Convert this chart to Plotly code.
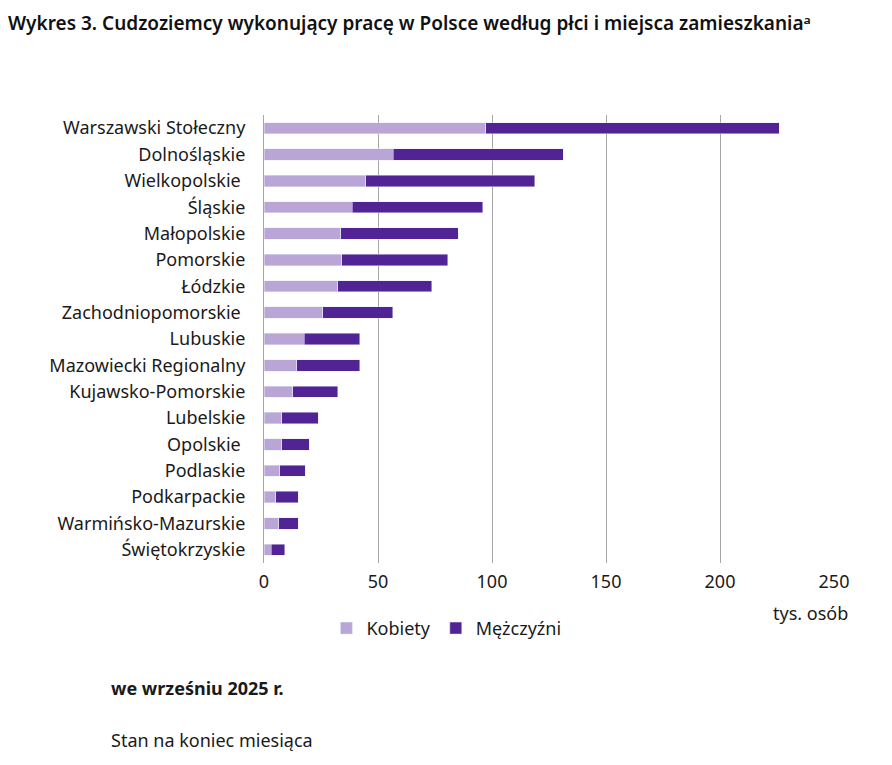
import plotly.graph_objects as go

# województwa (od góry wykresu)
regiony = [
    "Warszawski Stołeczny", "Dolnośląskie", "Wielkopolskie\u00a0", "Śląskie",
    "Małopolskie", "Pomorskie", "Łódzkie", "Zachodniopomorskie\u00a0",
    "Lubuskie", "Mazowiecki Regionalny", "Kujawsko-Pomorskie", "Lubelskie",
    "Opolskie\u00a0", "Podlaskie", "Podkarpackie", "Warmińsko-Mazurskie",
    "Świętokrzyskie",
]
# tys. osób
kobiety = [97.2, 56.6, 44.7, 38.6, 33.7, 34.2, 32.4, 25.7,
           17.6, 14.4, 12.7, 7.7, 7.7, 6.9, 5.1, 6.4, 3.2]
mezczyzni = [128.7, 74.6, 74.0, 57.3, 51.4, 46.4, 41.1, 30.7,
             24.5, 27.7, 19.7, 16.1, 12.1, 11.2, 9.9, 8.6, 5.8]
ticki_x = [0, 50, 100, 150, 200, 250]

FONT = "Noto Sans"

fig = go.Figure()
fig.add_trace(go.Bar(
    y=regiony, x=kobiety, name="Kobiety", orientation="h",
    marker_color="#b9a6d7",
))
fig.add_trace(go.Bar(
    y=regiony, x=mezczyzni, name="Mężczyźni", orientation="h",
    marker_color="#522394",
))

# strona ma 8 px marginesu body, stąd mniejsze wymiary figury
fig.update_layout(
    width=884, height=749,
    barmode="stack",
    bargap=0.57,
    plot_bgcolor="white",
    paper_bgcolor="white",
    font=dict(family=FONT, size=18, color="#1a1a1a"),
    margin=dict(l=256, r=58, t=107, b=194),
    showlegend=True,
    legend=dict(
        orientation="h", x=0.32, y=-0.146, xanchor="center", yanchor="middle",
        font=dict(size=18), traceorder="normal",
        itemwidth=30, entrywidthmode="pixels",
    ),
    title=dict(
        text="Wykres 3. Cudzoziemcy wykonujący pracę w Polsce według płci i miejsca zamieszkania\u1d43",
        x=0.0, xanchor="left", y=0.988, yanchor="top",
        font=dict(family=FONT, size=19, color="#111", weight=600),
    ),
)

fig.update_xaxes(
    range=[0, 250], tickvals=ticki_x,
    showgrid=True, gridcolor="#a6a6a6", gridwidth=1,
    zeroline=False, showline=False, ticks="",
    tickfont=dict(size=18), ticklabelstandoff=6,
)
fig.update_yaxes(
    autorange="reversed", showgrid=False, ticks="",
    showline=True, linecolor="#a6a6a6", linewidth=1,
    tickfont=dict(size=18), ticklabelstandoff=14,
)

fig.add_annotation(text="tys. osób", xref="paper", yref="paper",
                   x=1.028, y=-0.112, xanchor="right", yanchor="middle",
                   showarrow=False, font=dict(size=18))
fig.add_annotation(text="<b>we wrześniu 2025 r.</b>", xref="paper", yref="paper",
                   x=-0.272, y=-0.278, xanchor="left", yanchor="middle",
                   showarrow=False, font=dict(size=18))
fig.add_annotation(text="Stan na koniec miesiąca", xref="paper", yref="paper",
                   x=-0.272, y=-0.396, xanchor="left", yanchor="middle",
                   showarrow=False, font=dict(size=18))

fig.write_html("out.html")
